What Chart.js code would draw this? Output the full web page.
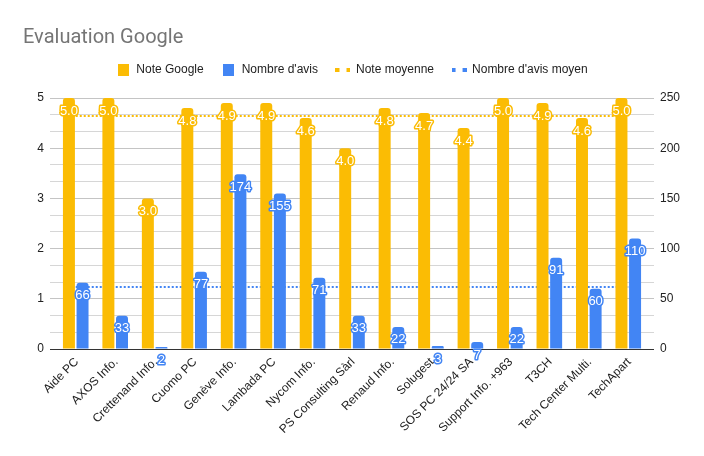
<!DOCTYPE html>
<html>
<head>
<meta charset="utf-8">
<script src="https://cdn.jsdelivr.net/npm/chart.js@4.4.1/dist/chart.umd.min.js"></script>
<style>
  html, body { margin: 0; padding: 0; background: #fff; }
  #wrap { width: 704px; height: 456px; }
</style>
</head>
<body>
<div id="wrap"><canvas id="chart"></canvas></div>
<script>
const categories = ['Aide PC', 'AXOS Info.', 'Crettenand Info.', 'Cuomo PC', 'Genève Info.', 'Lambada PC', 'Nycom Info.',
    'PS Consulting Sàrl', 'Renaud Info.', 'Solugest', 'SOS PC 24/24 SA', 'Support Info. +963', 'T3CH', 'Tech Center Multi.', 'TechApart'];
const noteGoogle = [5.0, 5.0, 3.0, 4.8, 4.9, 4.9, 4.6, 4.0, 4.8, 4.7, 4.4, 5.0, 4.9, 4.6, 5.0];
const nombreAvis = [66, 33, 2, 77, 174, 155, 71, 33, 22, 3, 7, 22, 91, 60, 110];
const noteMoyenne = [4.64, 4.64, 4.64, 4.64, 4.64, 4.64, 4.64, 4.64, 4.64, 4.64, 4.64, 4.64, 4.64, 4.64, 4.64];
const avisMoyen = [61.7, 61.7, 61.7, 61.7, 61.7, 61.7, 61.7, 61.7, 61.7, 61.7, 61.7, 61.7, 61.7, 61.7, 61.7];
const leftTicks = [0, 1, 2, 3, 4, 5];
const rightTicks = [0, 50, 100, 150, 200, 250];
const minorPerMajor = 3;

const YELLOW = '#fbbc04';
const BLUE = '#4285f4';
const FONT = '"Liberation Sans", Arial, sans-serif';

// major ticks plus two minor ticks between each pair
function withMinorTicks(list) {
    const out = [];
    for (let i = 0; i < list.length; i++) {
        out.push({ value: list[i], major: true });
        if (i < list.length - 1) {
            const step = (list[i + 1] - list[i]) / minorPerMajor;
            for (let k = 1; k < minorPerMajor; k++) out.push({ value: list[i] + k * step, major: false });
        }
    }
    return out;
}

function gridColor(ctx) {
    const t = ctx.tick;
    if (!t) return '#c4c4c4';
    if (Math.abs(t.value) < 1e-9) return '#333333';
    return t.major ? '#c4c4c4' : '#d6d6d6';
}

// little canvases used as legend markers
function squareMarker(color) {
    const c = document.createElement('canvas');
    c.width = 11; c.height = 12;
    const g = c.getContext('2d');
    g.fillStyle = color;
    g.fillRect(0, 0, 11, 12);
    return c;
}

function dottedMarker(color) {
    const c = document.createElement('canvas');
    c.width = 15; c.height = 4;
    const g = c.getContext('2d');
    g.fillStyle = color;
    g.fillRect(0, 0, 4, 4);
    g.fillRect(11, 0, 4, 4);
    return c;
}

// white value labels with an outline in the series colour
const barLabels = {
    id: 'barLabels',
    afterDatasetsDraw(chart) {
        const ctx = chart.ctx;
        ctx.save();
        ctx.font = '13px ' + FONT;
        ctx.textAlign = 'center';
        ctx.textBaseline = 'middle';
        ctx.lineJoin = 'round';
        ctx.lineWidth = 3;
        chart.data.datasets.forEach((ds, i) => {
            if (ds.type !== 'bar') return;
            const meta = chart.getDatasetMeta(i);
            meta.data.forEach((bar, j) => {
                const v = ds.data[j];
                const txt = i === 0 ? v.toFixed(1) : String(v);
                ctx.strokeStyle = ds.backgroundColor;
                ctx.strokeText(txt, bar.x, bar.y + 13);
                ctx.fillStyle = '#ffffff';
                ctx.fillText(txt, bar.x, bar.y + 13);
            });
        });
        ctx.restore();
    }
};

const legendSpace = {
    id: 'legendSpace',
    beforeInit(chart) {
        const fit = chart.legend.fit;
        chart.legend.fit = function () {
            fit.call(this);
            this.height += 12;
        };
    }
};

const barStyle = {
    type: 'bar',
    borderRadius: { topLeft: 3, topRight: 3 },
    borderSkipped: 'bottom',
    categoryPercentage: 0.69,
    barPercentage: 0.88,
    order: 0
};

function valueAxis(position, list, onChart) {
    return {
        position: position,
        min: list[0],
        max: list[list.length - 1],
        border: { display: false },
        grid: { color: gridColor, tickLength: 6, drawOnChartArea: onChart },
        afterBuildTicks(scale) { scale.ticks = withMinorTicks(list); },
        ticks: {
            autoSkip: false,
            padding: 6,
            color: '#222222',
            font: { family: FONT, size: 12 },
            callback: (v, i, ticks) => ticks[i].major ? String(v) : ''
        },
        afterFit(scale) { scale.width = 33; }
    };
}

new Chart(document.getElementById('chart'), {
    type: 'bar',
    data: {
        labels: categories,
        datasets: [
            { ...barStyle, label: 'Note Google', data: noteGoogle, backgroundColor: YELLOW, yAxisID: 'y' },
            { ...barStyle, label: "Nombre d'avis", data: nombreAvis, backgroundColor: BLUE, yAxisID: 'y1' },
            {
                type: 'line', label: 'Note moyenne', data: noteMoyenne, yAxisID: 'y', order: 1,
                borderColor: YELLOW, backgroundColor: YELLOW, borderWidth: 2, borderDash: [2, 2], pointRadius: 0
            },
            {
                type: 'line', label: "Nombre d'avis moyen", data: avisMoyen, yAxisID: 'y1', order: 1,
                borderColor: BLUE, backgroundColor: BLUE, borderWidth: 2, borderDash: [2, 2], pointRadius: 0
            }
        ]
    },
    options: {
        responsive: true,
        maintainAspectRatio: false,
        animation: false,
        layout: { padding: { top: 10, left: 23, right: 23, bottom: 0 } },
        plugins: {
            tooltip: { enabled: false },
            title: {
                display: true,
                text: 'Evaluation Google',
                align: 'start',
                color: '#757575',
                font: { family: 'Roboto', size: 20, weight: 'normal' },
                padding: { top: 16, bottom: -4 }
            },
            legend: {
                position: 'top',
                labels: {
                    usePointStyle: true,
                    pointStyleWidth: 14,
                    boxWidth: 14,
                    boxHeight: 12,
                    padding: 18,
                    color: '#222222',
                    font: { family: FONT, size: 12 },
                    generateLabels(chart) {
                        return chart.data.datasets.map((ds, i) => {
                            const isLine = ds.type === 'line';
                            return {
                                text: ds.label,
                                fillStyle: isLine ? ds.borderColor : ds.backgroundColor,
                                strokeStyle: 'rgba(0,0,0,0)',
                                lineWidth: 0,
                                pointStyle: isLine ? dottedMarker(ds.borderColor) : squareMarker(ds.backgroundColor),
                                fontColor: '#222222',
                                hidden: false,
                                datasetIndex: i
                            };
                        });
                    }
                }
            }
        },
        scales: {
            x: {
                grid: { display: false, drawTicks: false },
                border: { display: false },
                ticks: {
                    color: '#222222',
                    font: { family: FONT, size: 12 },
                    minRotation: 45,
                    maxRotation: 45,
                    autoSkip: false,
                    padding: 6,
                    labelOffset: 1
                },
                afterFit(scale) { scale.height = 107; }
            },
            y: valueAxis('left', leftTicks, true),
            y1: valueAxis('right', rightTicks, false)
        }
    },
    plugins: [barLabels, legendSpace]
});
</script>
</body>
</html>
